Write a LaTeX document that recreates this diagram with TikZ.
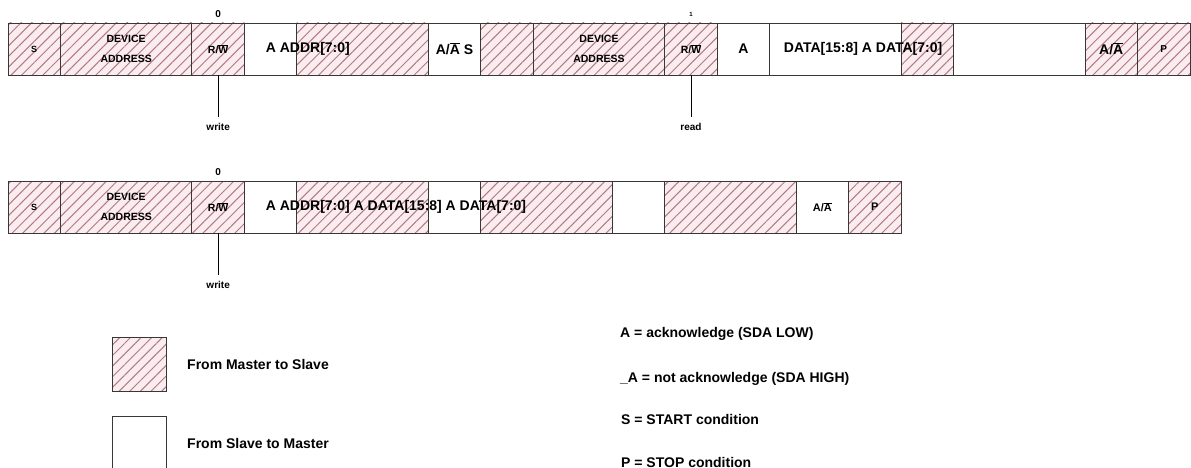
\documentclass[tikz,border=0pt]{standalone}
\usepackage{fontspec}
\setmainfont{Liberation Sans}
\usetikzlibrary{positioning, patterns.meta}
\definecolor{hatchline}{RGB}{176, 122, 136}
\definecolor{hatchbg}{RGB}{250, 236, 239}
\definecolor{cellline}{RGB}{55, 55, 55}

\tikzset{
  cell/.style={rectangle, draw=cellline, line width=0.9pt, minimum height=52pt, inner sep=0pt, outer sep=0pt, align=center, font=\bfseries\fontsize{10.5}{20}\selectfont},
  narrow/.style={cell, minimum width=52.5pt},
  wide/.style={cell, minimum width=131.4pt},
  m2s/.style={preaction={fill=hatchbg}, pattern={Lines[angle=45, distance=7.5pt, line width=1pt]}, pattern color=hatchline},
  s2m/.style={fill=white},
  bigtxt/.style={font=\bfseries\fontsize{14}{16}\selectfont, inner sep=0pt},
  midtxt/.style={font=\bfseries\fontsize{11}{13}\selectfont},
  tinytxt/.style={font=\bfseries\fontsize{9}{11}\selectfont},
  bittxt/.style={font=\bfseries\fontsize{10}{12}\selectfont, inner sep=0pt},
  tag/.style={font=\bfseries\fontsize{10}{12}\selectfont, inner sep=6pt},
}

\begin{document}
\begin{tikzpicture}[x=1pt, y=-1pt]
    \useasboundingbox (0,0) rectangle (1191,468);

    % write + read frame
    \node [narrow, m2s, tinytxt, anchor=north west] (sA) at (8,23) {S};
    \node [wide, m2s, right=0pt of sA] (devA) {DEVICE\\ADDRESS};
    \node [narrow, m2s, right=0pt of devA] (rwA) {R/$\overline{\mbox{W}}$};
    \node [narrow, s2m, right=0pt of rwA] (ackA) {};
    \node [wide, m2s, right=0pt of ackA] (addrA) {};
    \node [narrow, s2m, bigtxt, right=0pt of addrA] (naA) {A/$\overline{\mbox{A}}$ S};
    \node [narrow, m2s, right=0pt of naA] (gapA) {};
    \node [wide, m2s, right=0pt of gapA] (devB) {DEVICE\\ADDRESS};
    \node [narrow, m2s, right=0pt of devB] (rwB) {R/$\overline{\mbox{W}}$};
    \node [narrow, s2m, bigtxt, right=0pt of rwB] (ackB) {A};
    \node [wide, s2m, right=0pt of ackB] (datA) {};
    \node [narrow, m2s, right=0pt of datA] (datB) {};
    \node [wide, s2m, right=0pt of datB] (datC) {};
    \node [narrow, m2s, bigtxt, right=0pt of datC] (naB) {A/$\overline{\mbox{A}}$};
    \node [narrow, m2s, font=\bfseries\fontsize{10}{12}\selectfont, right=0pt of naB] (pA) {P};

    \node [bigtxt, anchor=west, xshift=-5pt] (addrTxtA) at (ackA.center) {A ADDR[7:0]};
    \node [bigtxt, anchor=west, xshift=14pt] (datTxtA) at (datA.west) {DATA[15:8] A DATA[7:0]};

    \node [bittxt, above=5pt of rwA] (bitA) {0};
    \node [bittxt, font=\bfseries\fontsize{6}{7}\selectfont, above=6pt of rwB] (bitB) {1};
    \node [tag, below=42pt of rwA] (wrA) {write};
    \node [tag, below=42pt of rwB] (rdB) {read};
    \draw [line width=0.8pt] (rwA.south) -- (wrA.north);
    \draw [line width=0.8pt] (rwB.south) -- (rdB.north);

    % write frame
    \node [narrow, m2s, tinytxt, anchor=north west] (sC) at (8,181) {S};
    \node [wide, m2s, right=0pt of sC] (devC) {DEVICE\\ADDRESS};
    \node [narrow, m2s, right=0pt of devC] (rwC) {R/$\overline{\mbox{W}}$};
    \node [narrow, s2m, right=0pt of rwC] (ackC) {};
    \node [wide, m2s, right=0pt of ackC] (addrC) {};
    \node [narrow, s2m, right=0pt of addrC] (ackD) {};
    \node [wide, m2s, right=0pt of ackD] (datD) {};
    \node [narrow, s2m, right=0pt of datD] (ackE) {};
    \node [wide, m2s, right=0pt of ackE] (datE) {};
    \node [narrow, s2m, midtxt, right=0pt of datE] (naC) {A/$\overline{\mbox{A}}$};
    \node [narrow, m2s, midtxt, right=0pt of naC] (pC) {P};

    \node [bigtxt, anchor=west, xshift=-5pt] (addrTxtC) at (ackC.center) {A ADDR[7:0] A DATA[15:8] A DATA[7:0]};

    \node [bittxt, above=5pt of rwC] (bitC) {0};
    \node [tag, below=42pt of rwC] (wrC) {write};
    \draw [line width=0.8pt] (rwC.south) -- (wrC.north);

    % legend
    \node [cell, m2s, minimum width=54pt, minimum height=54pt] (keyM) at (139,364) {};
    \node [bigtxt, right=21pt of keyM] (keyMTxt) {From Master to Slave};
    \node [cell, s2m, minimum width=54pt, minimum height=54pt, below=25pt of keyM] (keyS) {};
    \node [bigtxt, right=21pt of keyS] (keySTxt) {From Slave to Master};

    \node [bigtxt, anchor=west] (defA) at (620,334) {A = acknowledge (SDA LOW)};
    \node [bigtxt, anchor=west] (defN) at (620,379) {\_A = not acknowledge (SDA HIGH)};
    \node [bigtxt, anchor=west] (defS) at (621,419) {S = START condition};
    \node [bigtxt, anchor=west] (defP) at (621,462) {P = STOP condition};
\end{tikzpicture}
\end{document}
